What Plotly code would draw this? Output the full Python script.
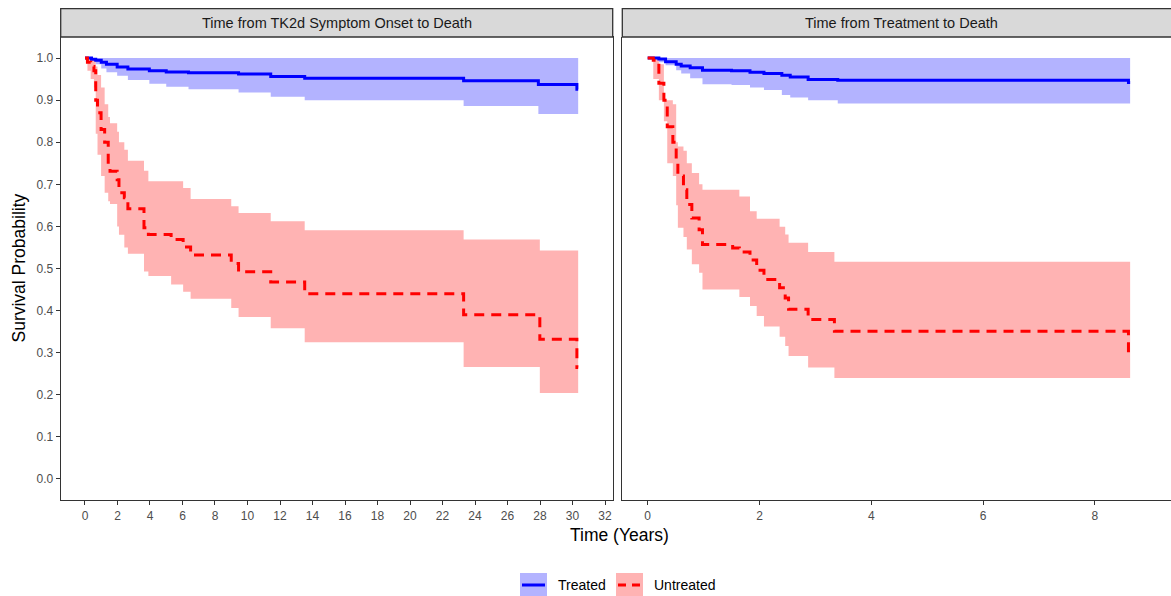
import plotly.graph_objects as go

# ---------------- data ----------------
panel_titles = ["Time from TK2d Symptom Onset to Death", "Time from Treatment to Death"]
group_names = ["Treated", "Untreated"]

# Left panel: time from TK2d symptom onset to death (years)
left_treated_time = [0, 0.4, 0.66, 1.0, 1.32, 1.98, 2.64, 3.96, 5.0, 6.37, 9.45, 11.43, 13.52, 23.3, 27.9, 30.27]
left_treated_surv = [1.0, 0.997, 0.995, 0.99, 0.985, 0.979, 0.974, 0.970, 0.967, 0.965, 0.962, 0.956, 0.952, 0.946, 0.937, 0.926]
left_treated_lower = [1.0, 0.99, 0.985, 0.975, 0.966, 0.958, 0.948, 0.939, 0.932, 0.926, 0.918, 0.908, 0.900, 0.886, 0.867, 0.867]
left_treated_upper = [1.0, 1.0, 1.0, 1.0, 1.0, 1.0, 1.0, 1.0, 1.0, 1.0, 1.0, 1.0, 1.0, 1.0, 1.0, 1.0]
left_treated_end = 30.35

left_untreated_time = [0, 0.15, 0.35, 0.55, 0.66, 0.77, 0.99, 1.21, 1.43, 1.54, 1.98, 2.09, 2.42, 2.64, 3.63, 3.9,
                       5.3, 6.04, 6.5, 9.0, 9.45, 11.43, 13.52, 23.3, 27.99, 30.27]
left_untreated_surv = [1.0, 0.99, 0.98, 0.97, 0.90, 0.87, 0.83, 0.80, 0.742, 0.731, 0.711, 0.680, 0.668, 0.642, 0.597,
                       0.581, 0.569, 0.551, 0.532, 0.512, 0.492, 0.468, 0.440, 0.390, 0.332, 0.265]
left_untreated_lower = [1.0, 0.97, 0.95, 0.93, 0.82, 0.77, 0.72, 0.68, 0.66, 0.653, 0.60, 0.58, 0.55, 0.535, 0.493,
                        0.482, 0.462, 0.445, 0.428, 0.406, 0.385, 0.358, 0.325, 0.266, 0.204, 0.204]
left_untreated_upper = [1.0, 1.0, 1.0, 1.0, 0.98, 0.96, 0.93, 0.89, 0.86, 0.845, 0.825, 0.80, 0.782, 0.756, 0.732,
                        0.707, 0.707, 0.691, 0.665, 0.648, 0.632, 0.612, 0.591, 0.569, 0.543, 0.543]
left_untreated_end = 30.35

# Right panel: time from treatment to death (years)
right_treated_time = [0, 0.2, 0.32, 0.51, 0.6, 0.76, 0.98, 1.5, 1.83, 2.08, 2.4, 2.55, 2.87, 3.4, 8.6]
right_treated_surv = [1.0, 0.998, 0.991, 0.985, 0.981, 0.977, 0.971, 0.970, 0.966, 0.963, 0.959, 0.955, 0.949, 0.947, 0.942]
right_treated_lower = [1.0, 0.99, 0.983, 0.971, 0.963, 0.952, 0.938, 0.936, 0.930, 0.924, 0.912, 0.906, 0.900, 0.892, 0.892]
right_treated_upper = [1.0, 1.0, 1.0, 1.0, 1.0, 1.0, 1.0, 1.0, 1.0, 1.0, 1.0, 1.0, 1.0, 1.0, 1.0]
right_treated_end = 8.63

right_untreated_time = [0, 0.1, 0.2, 0.29, 0.35, 0.45, 0.51, 0.54, 0.64, 0.7, 0.79, 0.92, 0.98, 1.52, 1.64, 1.83,
                        1.95, 2.08, 2.36, 2.46, 2.52, 2.87, 3.34, 8.6]
right_untreated_surv = [1.0, 0.995, 0.94, 0.90, 0.837, 0.80, 0.76, 0.72, 0.687, 0.652, 0.620, 0.592, 0.557, 0.549,
                        0.539, 0.52, 0.496, 0.474, 0.454, 0.43, 0.403, 0.379, 0.351, 0.296]
right_untreated_lower = [1.0, 0.95, 0.90, 0.85, 0.75, 0.72, 0.65, 0.597, 0.575, 0.545, 0.51, 0.49, 0.45, 0.45,
                         0.432, 0.411, 0.387, 0.362, 0.338, 0.316, 0.292, 0.265, 0.240, 0.240]
right_untreated_upper = [1.0, 1.0, 0.985, 0.90, 0.90, 0.89, 0.80, 0.79, 0.78, 0.75, 0.727, 0.70, 0.687, 0.687,
                         0.671, 0.636, 0.618, 0.618, 0.599, 0.581, 0.561, 0.539, 0.516, 0.516]
right_untreated_end = 8.63

left_xticks = list(range(0, 33, 2))
right_xticks = [0, 2, 4, 6, 8]
y_ticks = [0.0, 0.1, 0.2, 0.3, 0.4, 0.5, 0.6, 0.7, 0.8, 0.9, 1.0]
y_ticklabels = ["0.0", "0.1", "0.2", "0.3", "0.4", "0.5", "0.6", "0.7", "0.8", "0.9", "1.0"]

# ---------------- styling ----------------
W, H = 1171, 596
BLUE, RED = "#0000ff", "#ff0000"
BLUE_FILL, RED_FILL = "#b3b3ff", "#ffb3b3"
AXIS_COL = "#333333"
TICK_TXT = "#4d4d4d"
FONT = "Liberation Sans, Arial, sans-serif"


def px(xp):
    return xp / W


def py(yp):
    return 1 - yp / H


fig = go.Figure()


def band(xa, ya, t, lo, up, t_end, fill):
    tt = list(t) + [t_end]
    fig.add_trace(go.Scatter(x=tt, y=list(lo) + [lo[-1]], xaxis=xa, yaxis=ya, mode="lines",
                             line=dict(width=0, shape="hv"), showlegend=False, hoverinfo="skip"))
    fig.add_trace(go.Scatter(x=tt, y=list(up) + [up[-1]], xaxis=xa, yaxis=ya, mode="lines",
                             line=dict(width=0, shape="hv"), fill="tonexty", fillcolor=fill,
                             showlegend=False, hoverinfo="skip"))


def curve(xa, ya, t, s, t_end, color, dash, name):
    fig.add_trace(go.Scatter(x=list(t) + [t_end], y=list(s) + [s[-1]], xaxis=xa, yaxis=ya, mode="lines",
                             line=dict(color=color, width=3, shape="hv", dash=dash),
                             name=name, showlegend=False))


DASH = "10px,7px"
# left panel
band("x", "y", left_treated_time, left_treated_lower, left_treated_upper, left_treated_end, BLUE_FILL)
band("x", "y", left_untreated_time, left_untreated_lower, left_untreated_upper, left_untreated_end, RED_FILL)
curve("x", "y", left_treated_time, left_treated_surv, left_treated_end, BLUE, "solid", group_names[0])
curve("x", "y", left_untreated_time, left_untreated_surv, left_untreated_end, RED, DASH, group_names[1])
# right panel
band("x2", "y2", right_treated_time, right_treated_lower, right_treated_upper, right_treated_end, BLUE_FILL)
band("x2", "y2", right_untreated_time, right_untreated_lower, right_untreated_upper, right_untreated_end, RED_FILL)
curve("x2", "y2", right_treated_time, right_treated_surv, right_treated_end, BLUE, "solid", group_names[0])
curve("x2", "y2", right_untreated_time, right_untreated_surv, right_untreated_end, RED, DASH, group_names[1])

# panel geometry (pixels)
L1, R1 = 60.7, 612.7
L2, R2 = 622.3, 1171
TOP, BOT = 37, 500
STRIP_TOP = 8.7

axis_common = dict(showgrid=False, zeroline=False, showline=True, linecolor=AXIS_COL, linewidth=1.3,
                   ticks="outside", ticklen=4, tickwidth=1, tickcolor=AXIS_COL,
                   tickfont=dict(size=12, color=TICK_TXT, family=FONT))

fig.update_layout(
    width=W, height=H, margin=dict(l=0, r=0, t=0, b=0),
    paper_bgcolor="white", plot_bgcolor="white", showlegend=False,
    font=dict(family=FONT),
    xaxis=dict(domain=[px(L1), px(R1)], range=[-1.495, 32.474], tickvals=left_xticks, mirror=True,
               anchor="y", **axis_common),
    yaxis=dict(domain=[py(BOT), py(TOP)], range=[-0.05, 1.05], tickvals=y_ticks, ticktext=y_ticklabels,
               mirror=True, anchor="x", **axis_common),
    xaxis2=dict(domain=[px(L2), 1.0], range=[-0.454, 9.361], tickvals=right_xticks, anchor="y2",
                **axis_common),
    yaxis2=dict(domain=[py(BOT), py(TOP)], range=[-0.05, 1.05], anchor="x2", showgrid=False, zeroline=False,
                showline=True, linecolor=AXIS_COL, linewidth=1.3, showticklabels=False, ticks=""),
)

shapes = []
annotations = []
# strips
for (x0, x1, title, cx) in [(L1, R1, panel_titles[0], (L1 + R1) / 2), (L2, W + 15, panel_titles[1], 901)]:
    shapes.append(dict(type="rect", xref="paper", yref="paper", x0=px(x0), x1=px(x1), y0=py(TOP), y1=py(STRIP_TOP),
                       fillcolor="#d9d9d9", line=dict(color=AXIS_COL, width=1.3), layer="above"))
    annotations.append(dict(xref="paper", yref="paper", x=px(cx), y=py((TOP + STRIP_TOP) / 2), text=title,
                            showarrow=False, xanchor="center", yanchor="middle",
                            font=dict(size=14.5, color="#1a1a1a", family=FONT)))

# axis titles
annotations.append(dict(xref="paper", yref="paper", x=px(18), y=py((TOP + BOT) / 2), text="Survival Probability",
                        textangle=-90, showarrow=False, xanchor="center", yanchor="middle",
                        font=dict(size=17.5, color="black", family=FONT)))
annotations.append(dict(xref="paper", yref="paper", x=px(619), y=py(535), text="Time (Years)",
                        showarrow=False, xanchor="center", yanchor="middle",
                        font=dict(size=17.5, color="black", family=FONT)))

# legend (keys drawn as shapes, labels as text)
LEG_Y0, LEG_Y1, LEG_MID = 573, 597, 585
keys = [(520, 547, BLUE_FILL, BLUE, "solid", group_names[0], 556),
        (616, 643, RED_FILL, RED, "dash", group_names[1], 652)]
for (k0, k1, fill, col, dash, label, tx) in keys:
    shapes.append(dict(type="rect", xref="paper", yref="paper", x0=px(k0), x1=px(k1), y0=py(LEG_Y1), y1=py(LEG_Y0),
                       fillcolor=fill, line=dict(width=0)))
    shapes.append(dict(type="line", xref="paper", yref="paper", x0=px(k0 + 2), x1=px(k1 - 2), y0=py(LEG_MID),
                       y1=py(LEG_MID), line=dict(color=col, width=3, dash=("8px,6px" if dash == "dash" else "solid"))))
    annotations.append(dict(xref="paper", yref="paper", x=px(tx), y=py(LEG_MID), text=label, showarrow=False,
                            xanchor="left", yanchor="middle", font=dict(size=14, color="black", family=FONT)))

fig.update_layout(shapes=shapes, annotations=annotations)
fig.write_html("out.html", config={"displayModeBar": False},
               post_script="document.body.style.margin='0px';document.body.style.padding='0px';"
                           "document.body.style.overflow='hidden';")
